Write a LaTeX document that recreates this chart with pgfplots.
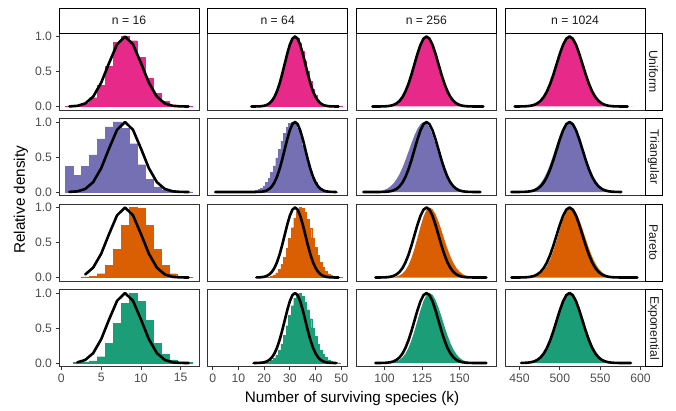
\documentclass[border=0pt]{standalone}
\usepackage{fontspec}
\setmainfont{Liberation Sans}
\usepackage{pgfplots}
\pgfplotsset{compat=1.18}
\definecolor{uni}{HTML}{E7298A}
\definecolor{tri}{HTML}{7570B3}
\definecolor{par}{HTML}{D95F02}
\definecolor{expo}{HTML}{1B9E77}
\definecolor{gray20}{HTML}{333333}
\definecolor{gray30}{HTML}{4D4D4D}
\definecolor{gray10}{HTML}{1A1A1A}
\newcommand{\tickf}{\fontsize{12.2}{14}\selectfont}
\newcommand{\ttlf}{\fontsize{15.3}{18}\selectfont}
\pgfplotsset{
 panel/.style={scale only axis, width=140pt, height=77pt, ymin=-0.05, ymax=1.05,
   anchor=south west, axis on top, clip=true,
   axis line style={draw=gray20, line width=0.8pt},
   xtick=\empty, ytick=\empty, tick pos=left, tick align=outside,
   major tick length=3.5pt, tick style={draw=gray20, line width=0.8pt},
   ticklabel style={font=\tickf, text=gray30}},
 c1/.style={xmin=-0.3, xmax=17.3},
 c2/.style={xmin=-2, xmax=52.5},
 c3/.style={xmin=81.2, xmax=174.6},
 c4/.style={xmin=432, xmax=605.5},
 yt/.style={ytick={0,0.5,1}, yticklabels={0.0,0.5,1.0}},
 cv/.style={black, line width=2.6pt, line join=round, line cap=round},
}
\begin{document}
\begin{tikzpicture}
\useasboundingbox (0pt,0pt) rectangle (676pt,410pt);
% ===================== Row 1: Uniform =====================
\begin{axis}[panel, c1, yt, at={(59pt,300pt)}]
\addplot[ybar, bar width=1, fill=uni, draw=uni, line width=0.3pt] coordinates {(1,0.005)(2,0.012)(3,0.045)(4,0.125)(5,0.30)(6,0.57)(7,0.92)(8,1.0)(9,0.94)(10,0.70)(11,0.41)(12,0.19)(13,0.075)(14,0.022)(15,0.008)(16,0.004)};
\addplot[cv] coordinates {(1,0.0012)(2,0.0093)(3,0.0435)(4,0.1414)(5,0.3394)(6,0.6222)(7,0.8889)(8,1)(9,0.8889)(10,0.6222)(11,0.3394)(12,0.1414)(13,0.0435)(14,0.0093)(15,0.0012)(16,0.0001)};
\end{axis}
\begin{axis}[panel, c2, at={(207.67pt,300pt)}]
\addplot[ybar, bar width=1, fill=uni, draw=uni, line width=0.3pt] coordinates {(15,0.001)(16,0.001)(17,0.001)(18,0.002)(19,0.004)(20,0.010)(21,0.022)(22,0.043)(23,0.078)(24,0.135)(25,0.215)(26,0.325)(27,0.46)(28,0.605)(29,0.755)(30,0.88)(31,0.965)(32,1.0)(33,0.98)(34,0.91)(35,0.79)(36,0.65)(37,0.50)(38,0.36)(39,0.245)(40,0.155)(41,0.092)(42,0.051)(43,0.027)(44,0.013)(45,0.006)(46,0.003)(47,0.002)(48,0.001)(49,0.001)(50,0.001)};
\addplot[cv] coordinates {(15,0.0001)(16,0.0003)(17,0.0008)(18,0.0020)(19,0.0048)(20,0.0107)(21,0.0224)(22,0.0438)(23,0.0801)(24,0.1368)(25,0.2188)(26,0.3282)(27,0.4620)(28,0.6105)(29,0.7578)(30,0.8841)(31,0.9697)(32,1)(33,0.9697)(34,0.8841)(35,0.7578)(36,0.6105)(37,0.4620)(38,0.3282)(39,0.2188)(40,0.1368)(41,0.0801)(42,0.0438)(43,0.0224)(44,0.0107)(45,0.0048)(46,0.0020)(47,0.0008)(48,0.0003)(49,0.0001)};
\end{axis}
\begin{axis}[panel, c3, at={(356.33pt,300pt)}]
\addplot[fill=uni, draw=none] coordinates {(91,0)(91,0.002)(92,0.002)(94,0.002)(96,0.002)(98,0.002)(100,0.003)(102,0.005)(104,0.011)(106,0.022)(108,0.043)(110,0.078)(112,0.133)(114,0.213)(116,0.322)(118,0.455)(120,0.603)(122,0.752)(124,0.881)(126,0.968)(128,1.0)(130,0.975)(132,0.893)(134,0.770)(136,0.625)(138,0.475)(140,0.340)(142,0.228)(144,0.145)(146,0.086)(148,0.048)(150,0.025)(152,0.012)(154,0.006)(156,0.003)(158,0.002)(160,0.002)(162,0.002)(164,0.002)(166,0.002)(167,0.002)(167,0)};
\addplot[cv] coordinates {(92,0)(94,0.0001)(96,0.0003)(98,0.0009)(100,0.0022)(102,0.0051)(104,0.0111)(106,0.0228)(108,0.0439)(110,0.0796)(112,0.1353)(114,0.2163)(116,0.3247)(118,0.4578)(120,0.6065)(122,0.7548)(124,0.8825)(126,0.969)(128,1)(130,0.969)(132,0.8825)(134,0.7548)(136,0.6065)(138,0.4578)(140,0.3247)(142,0.2163)(144,0.1353)(146,0.0796)(148,0.0439)(150,0.0228)(152,0.0111)(154,0.0051)(156,0.0022)(158,0.0009)(160,0.0003)(162,0.0001)(164,0)(166,0)};
\end{axis}
\begin{axis}[panel, c4, at={(505pt,300pt)}]
\addplot[fill=uni, draw=none] coordinates {(442,0)(442,0.002)(444,0.002)(448,0.002)(452,0.002)(456,0.003)(460,0.005)(464,0.011)(468,0.022)(472,0.043)(476,0.079)(480,0.134)(484,0.214)(488,0.322)(492,0.455)(496,0.604)(500,0.752)(504,0.881)(508,0.968)(512,1.0)(516,0.972)(520,0.887)(524,0.760)(528,0.612)(532,0.463)(536,0.330)(540,0.220)(544,0.138)(548,0.081)(552,0.045)(556,0.023)(560,0.011)(564,0.005)(568,0.003)(572,0.002)(576,0.002)(580,0.002)(584,0.002)(588,0.002)(590,0.002)(590,0)};
\addplot[cv] coordinates {(444,0.0001)(448,0.0003)(452,0.0009)(456,0.0022)(460,0.0051)(464,0.0111)(468,0.0228)(472,0.0439)(476,0.0796)(480,0.1353)(484,0.2163)(488,0.3247)(492,0.4578)(496,0.6065)(500,0.7548)(504,0.8825)(508,0.969)(512,1)(516,0.969)(520,0.8825)(524,0.7548)(528,0.6065)(532,0.4578)(536,0.3247)(540,0.2163)(544,0.1353)(548,0.0796)(552,0.0439)(556,0.0228)(560,0.0111)(564,0.0051)(568,0.0022)(572,0.0009)(576,0.0003)(580,0.0001)(584,0)};
\end{axis}
% ===================== Row 2: Triangular =====================
\begin{axis}[panel, c1, yt, at={(59pt,214.5pt)}]
\addplot[ybar, bar width=1, fill=tri, draw=tri, line width=0.3pt] coordinates {(1,0.37)(2,0.235)(3,0.37)(4,0.53)(5,0.76)(6,0.93)(7,1.0)(8,0.91)(9,0.69)(10,0.39)(11,0.185)(12,0.075)(13,0.03)(14,0.012)(15,0.006)(16,0.003)};
\addplot[cv] coordinates {(1,0.0012)(2,0.0093)(3,0.0435)(4,0.1414)(5,0.3394)(6,0.6222)(7,0.8889)(8,1)(9,0.8889)(10,0.6222)(11,0.3394)(12,0.1414)(13,0.0435)(14,0.0093)(15,0.0012)(16,0.0001)};
\end{axis}
\begin{axis}[panel, c2, at={(207.67pt,214.5pt)}]
\addplot[ybar, bar width=1, fill=tri, draw=tri, line width=0.3pt] coordinates {(1,0.004)(2,0.004)(3,0.004)(4,0.004)(5,0.004)(6,0.004)(7,0.004)(8,0.004)(9,0.004)(10,0.004)(11,0.004)(12,0.004)(13,0.004)(14,0.005)(15,0.006)(16,0.011)(17,0.020)(18,0.034)(19,0.056)(20,0.089)(21,0.135)(22,0.198)(23,0.278)(24,0.375)(25,0.487)(26,0.607)(27,0.726)(28,0.835)(29,0.923)(30,0.980)(31,1.0)(32,0.976)(33,0.906)(34,0.801)(35,0.674)(36,0.539)(37,0.411)(38,0.298)(39,0.206)(40,0.135)(41,0.085)(42,0.050)(43,0.029)(44,0.015)(45,0.008)(46,0.004)(47,0.002)(48,0.001)};
\addplot[cv] coordinates {(1,0)(14,0)(15,0.0001)(16,0.0003)(17,0.0008)(18,0.0020)(19,0.0048)(20,0.0107)(21,0.0224)(22,0.0438)(23,0.0801)(24,0.1368)(25,0.2188)(26,0.3282)(27,0.4620)(28,0.6105)(29,0.7578)(30,0.8841)(31,0.9697)(32,1)(33,0.9697)(34,0.8841)(35,0.7578)(36,0.6105)(37,0.4620)(38,0.3282)(39,0.2188)(40,0.1368)(41,0.0801)(42,0.0438)(43,0.0224)(44,0.0107)(45,0.0048)(46,0.0020)(47,0.0008)(48,0.0003)};
\end{axis}
\begin{axis}[panel, c3, at={(356.33pt,214.5pt)}]
\addplot[fill=tri, draw=none] coordinates {(85,0)(85,0.001)(86,0.001)(88,0.001)(90,0.002)(92,0.003)(94,0.005)(96,0.0095)(98,0.017)(100,0.030)(102,0.050)(104,0.080)(106,0.122)(108,0.181)(110,0.256)(112,0.349)(114,0.458)(116,0.576)(118,0.697)(120,0.810)(122,0.904)(124,0.969)(126,1.0)(128,0.985)(130,0.921)(132,0.815)(134,0.684)(136,0.543)(138,0.409)(140,0.291)(142,0.197)(144,0.126)(146,0.077)(148,0.044)(150,0.024)(152,0.012)(154,0.006)(156,0.003)(158,0.002)(160,0.001)(162,0.001)(164,0.001)(165,0.001)(165,0)};
\addplot[cv] coordinates {(86,0)(92,0)(94,0.0001)(96,0.0003)(98,0.0009)(100,0.0022)(102,0.0051)(104,0.0111)(106,0.0228)(108,0.0439)(110,0.0796)(112,0.1353)(114,0.2163)(116,0.3247)(118,0.4578)(120,0.6065)(122,0.7548)(124,0.8825)(126,0.969)(128,1)(130,0.969)(132,0.8825)(134,0.7548)(136,0.6065)(138,0.4578)(140,0.3247)(142,0.2163)(144,0.1353)(146,0.0796)(148,0.0439)(150,0.0228)(152,0.0111)(154,0.0051)(156,0.0022)(158,0.0009)(160,0.0003)(162,0.0001)(164,0)};
\end{axis}
\begin{axis}[panel, c4, at={(505pt,214.5pt)}]
\addplot[fill=tri, draw=none] coordinates {(438,0)(438,0.001)(440,0.001)(444,0.001)(448,0.001)(452,0.0024)(456,0.0053)(460,0.011)(464,0.022)(468,0.041)(472,0.072)(476,0.120)(480,0.190)(484,0.283)(488,0.400)(492,0.535)(496,0.678)(500,0.811)(504,0.919)(508,0.985)(512,1.0)(516,0.951)(520,0.850)(524,0.713)(528,0.560)(532,0.414)(536,0.286)(540,0.186)(544,0.113)(548,0.064)(552,0.034)(556,0.017)(560,0.008)(564,0.004)(568,0.002)(572,0.001)(576,0.001)(578,0.001)(578,0)};
\addplot[cv] coordinates {(440,0)(444,0.0001)(448,0.0003)(452,0.0009)(456,0.0022)(460,0.0051)(464,0.0111)(468,0.0228)(472,0.0439)(476,0.0796)(480,0.1353)(484,0.2163)(488,0.3247)(492,0.4578)(496,0.6065)(500,0.7548)(504,0.8825)(508,0.969)(512,1)(516,0.969)(520,0.8825)(524,0.7548)(528,0.6065)(532,0.4578)(536,0.3247)(540,0.2163)(544,0.1353)(548,0.0796)(552,0.0439)(556,0.0228)(560,0.0111)(564,0.0051)(568,0.0022)(572,0.0009)(576,0.0003)};
\end{axis}
% ===================== Row 3: Pareto =====================
\begin{axis}[panel, c1, yt, at={(59pt,129pt)}]
\addplot[ybar, bar width=1, fill=par, draw=par, line width=0.3pt] coordinates {(3,0.008)(4,0.018)(5,0.055)(6,0.17)(7,0.40)(8,0.75)(9,1.0)(10,0.99)(11,0.75)(12,0.40)(13,0.17)(14,0.055)(15,0.018)(16,0.006)};
\addplot[cv] coordinates {(3,0.0435)(4,0.1414)(5,0.3394)(6,0.6222)(7,0.8889)(8,1)(9,0.8889)(10,0.6222)(11,0.3394)(12,0.1414)(13,0.0435)(14,0.0093)(15,0.0012)(16,0.0001)};
\end{axis}
\begin{axis}[panel, c2, at={(207.67pt,129pt)}]
\addplot[ybar, bar width=1, fill=par, draw=par, line width=0.3pt] coordinates {(17,0.001)(18,0.001)(19,0.001)(20,0.002)(21,0.004)(22,0.009)(23,0.018)(24,0.036)(25,0.067)(26,0.116)(27,0.189)(28,0.289)(29,0.416)(30,0.561)(31,0.712)(32,0.848)(33,0.949)(34,1.0)(35,0.987)(36,0.928)(37,0.828)(38,0.702)(39,0.565)(40,0.432)(41,0.313)(42,0.216)(43,0.141)(44,0.088)(45,0.052)(46,0.029)(47,0.016)(48,0.008)(49,0.004)(50,0.002)};
\addplot[cv] coordinates {(17,0.0008)(18,0.0020)(19,0.0048)(20,0.0107)(21,0.0224)(22,0.0438)(23,0.0801)(24,0.1368)(25,0.2188)(26,0.3282)(27,0.4620)(28,0.6105)(29,0.7578)(30,0.8841)(31,0.9697)(32,1)(33,0.9697)(34,0.8841)(35,0.7578)(36,0.6105)(37,0.4620)(38,0.3282)(39,0.2188)(40,0.1368)(41,0.0801)(42,0.0438)(43,0.0224)(44,0.0107)(45,0.0048)(46,0.0020)(47,0.0008)(48,0.0003)(49,0.0001)};
\end{axis}
\begin{axis}[panel, c3, at={(356.33pt,129pt)}]
\addplot[fill=par, draw=none] coordinates {(93,0)(93,0.001)(94,0.001)(96,0.001)(98,0.001)(100,0.001)(102,0.001)(104,0.0025)(106,0.006)(108,0.0136)(110,0.029)(112,0.056)(114,0.103)(116,0.175)(118,0.278)(120,0.411)(122,0.566)(124,0.726)(126,0.868)(128,0.965)(130,1.0)(132,0.976)(134,0.906)(136,0.801)(138,0.674)(140,0.539)(142,0.411)(144,0.298)(146,0.206)(148,0.135)(150,0.085)(152,0.050)(154,0.029)(156,0.015)(158,0.008)(160,0.004)(162,0.002)(164,0.001)(166,0.001)(168,0.001)(169,0.001)(169,0)};
\addplot[cv] coordinates {(94,0.0001)(96,0.0003)(98,0.0009)(100,0.0022)(102,0.0051)(104,0.0111)(106,0.0228)(108,0.0439)(110,0.0796)(112,0.1353)(114,0.2163)(116,0.3247)(118,0.4578)(120,0.6065)(122,0.7548)(124,0.8825)(126,0.969)(128,1)(130,0.969)(132,0.8825)(134,0.7548)(136,0.6065)(138,0.4578)(140,0.3247)(142,0.2163)(144,0.1353)(146,0.0796)(148,0.0439)(150,0.0228)(152,0.0111)(154,0.0051)(156,0.0022)(158,0.0009)(160,0.0003)(162,0.0001)(164,0)(166,0)(168,0)};
\end{axis}
\begin{axis}[panel, c4, at={(505pt,129pt)}]
\addplot[fill=par, draw=none] coordinates {(438,0)(438,0.001)(440,0.001)(444,0.001)(448,0.001)(452,0.001)(456,0.001)(460,0.0025)(464,0.006)(468,0.0135)(472,0.028)(476,0.054)(480,0.097)(484,0.164)(488,0.258)(492,0.382)(496,0.528)(500,0.684)(504,0.829)(508,0.939)(512,1.0)(516,0.99)(520,0.930)(524,0.826)(528,0.695)(532,0.553)(536,0.416)(540,0.297)(544,0.200)(548,0.127)(552,0.077)(556,0.044)(560,0.024)(564,0.012)(568,0.006)(572,0.003)(576,0.0015)(580,0.001)(584,0.001)(588,0.001)(592,0.001)(596,0.001)(598,0.001)(598,0)};
\addplot[cv] coordinates {(440,0)(444,0.0001)(448,0.0003)(452,0.0009)(456,0.0022)(460,0.0051)(464,0.0111)(468,0.0228)(472,0.0439)(476,0.0796)(480,0.1353)(484,0.2163)(488,0.3247)(492,0.4578)(496,0.6065)(500,0.7548)(504,0.8825)(508,0.969)(512,1)(516,0.969)(520,0.8825)(524,0.7548)(528,0.6065)(532,0.4578)(536,0.3247)(540,0.2163)(544,0.1353)(548,0.0796)(552,0.0439)(556,0.0228)(560,0.0111)(564,0.0051)(568,0.0022)(572,0.0009)(576,0.0003)(580,0.0001)(584,0)(596,0)};
\end{axis}
% ===================== Row 4: Exponential =====================
\begin{axis}[panel, c1, yt, at={(59pt,43.5pt)}, xtick={0,5,10,15}, xticklabels={0,5,10,15}]
\addplot[ybar, bar width=1, fill=expo, draw=expo, line width=0.3pt] coordinates {(2,0.01)(3,0.015)(4,0.03)(5,0.09)(6,0.28)(7,0.57)(8,0.85)(9,1.0)(10,0.88)(11,0.61)(12,0.28)(13,0.12)(14,0.045)(15,0.017)(16,0.008)};
\addplot[cv] coordinates {(2,0.0093)(3,0.0435)(4,0.1414)(5,0.3394)(6,0.6222)(7,0.8889)(8,1)(9,0.8889)(10,0.6222)(11,0.3394)(12,0.1414)(13,0.0435)(14,0.0093)(15,0.0012)(16,0.0001)};
\end{axis}
\begin{axis}[panel, c2, at={(207.67pt,43.5pt)}, xtick={0,10,20,30,40,50}, xticklabels={0,10,20,30,40,50}]
\addplot[ybar, bar width=1, fill=expo, draw=expo, line width=0.3pt] coordinates {(16,0.001)(17,0.001)(18,0.001)(19,0.002)(20,0.004)(21,0.009)(22,0.018)(23,0.035)(24,0.065)(25,0.110)(26,0.179)(27,0.273)(28,0.394)(29,0.533)(30,0.680)(31,0.818)(32,0.927)(33,0.989)(34,1.0)(35,0.955)(36,0.873)(37,0.761)(38,0.633)(39,0.502)(40,0.380)(41,0.274)(42,0.189)(43,0.124)(44,0.078)(45,0.046)(46,0.026)(47,0.014)(48,0.007)(49,0.003)};
\addplot[cv] coordinates {(16,0.0003)(17,0.0008)(18,0.0020)(19,0.0048)(20,0.0107)(21,0.0224)(22,0.0438)(23,0.0801)(24,0.1368)(25,0.2188)(26,0.3282)(27,0.4620)(28,0.6105)(29,0.7578)(30,0.8841)(31,0.9697)(32,1)(33,0.9697)(34,0.8841)(35,0.7578)(36,0.6105)(37,0.4620)(38,0.3282)(39,0.2188)(40,0.1368)(41,0.0801)(42,0.0438)(43,0.0224)(44,0.0107)(45,0.0048)(46,0.0020)(47,0.0008)(48,0.0003)};
\end{axis}
\begin{axis}[panel, c3, at={(356.33pt,43.5pt)}, xtick={100,125,150}, xticklabels={100,125,150}]
\addplot[fill=expo, draw=none] coordinates {(93,0)(93,0.001)(94,0.001)(96,0.001)(98,0.001)(100,0.001)(102,0.002)(104,0.005)(106,0.011)(108,0.023)(110,0.044)(112,0.080)(114,0.135)(116,0.216)(118,0.325)(120,0.458)(122,0.6065)(124,0.755)(126,0.8825)(128,0.969)(130,1.0)(132,0.975)(134,0.902)(136,0.793)(138,0.662)(140,0.524)(142,0.395)(144,0.282)(146,0.191)(148,0.124)(150,0.076)(152,0.044)(154,0.024)(156,0.013)(158,0.006)(160,0.003)(162,0.0015)(164,0.001)(166,0.001)(168,0.001)(169,0.001)(169,0)};
\addplot[cv] coordinates {(94,0.0001)(96,0.0003)(98,0.0009)(100,0.0022)(102,0.0051)(104,0.0111)(106,0.0228)(108,0.0439)(110,0.0796)(112,0.1353)(114,0.2163)(116,0.3247)(118,0.4578)(120,0.6065)(122,0.7548)(124,0.8825)(126,0.969)(128,1)(130,0.969)(132,0.8825)(134,0.7548)(136,0.6065)(138,0.4578)(140,0.3247)(142,0.2163)(144,0.1353)(146,0.0796)(148,0.0439)(150,0.0228)(152,0.0111)(154,0.0051)(156,0.0022)(158,0.0009)(160,0.0003)(162,0.0001)(164,0)(166,0)(168,0)};
\end{axis}
\begin{axis}[panel, c4, at={(505pt,43.5pt)}, xtick={450,500,550,600}, xticklabels={450,500,550,600}]
\addplot[fill=expo, draw=none] coordinates {(450,0)(450,0.001)(452,0.001)(456,0.002)(460,0.004)(464,0.0092)(468,0.019)(472,0.037)(476,0.069)(480,0.119)(484,0.194)(488,0.295)(492,0.422)(496,0.568)(500,0.719)(504,0.854)(508,0.952)(512,0.998)(516,0.984)(520,0.914)(524,0.801)(528,0.662)(532,0.515)(536,0.378)(540,0.262)(544,0.171)(548,0.106)(552,0.061)(556,0.034)(560,0.017)(564,0.0084)(568,0.004)(572,0.002)(576,0.001)(580,0.001)(584,0.001)(588,0.001)(590,0.001)(590,0)};
\addplot[cv] coordinates {(452,0.0009)(456,0.0022)(460,0.0051)(464,0.0111)(468,0.0228)(472,0.0439)(476,0.0796)(480,0.1353)(484,0.2163)(488,0.3247)(492,0.4578)(496,0.6065)(500,0.7548)(504,0.8825)(508,0.969)(512,1)(516,0.969)(520,0.8825)(524,0.7548)(528,0.6065)(532,0.4578)(536,0.3247)(540,0.2163)(544,0.1353)(548,0.0796)(552,0.0439)(556,0.0228)(560,0.0111)(564,0.0051)(568,0.0022)(572,0.0009)(576,0.0003)(580,0.0001)(584,0)(588,0)};
\end{axis}
% ===================== Strips =====================
\begin{scope}[every node/.style={font=\tickf, text=gray10}]
\foreach \x/\lab in {59/{n = 16}, 207.67/{n = 64}, 356.33/{n = 256}, 505/{n = 1024}}{
  \draw[black, line width=0.9pt, fill=white] (\x pt,377pt) rectangle ({\x pt+140pt},401.5pt);
  \node at ({\x pt+70pt},389.25pt) {\lab};
}
\foreach \y/\lab in {300/Uniform, 214.5/Triangular, 129/Pareto, 43.5/Exponential}{
  \draw[black, line width=0.9pt, fill=white] (645pt,\y pt) rectangle (662pt,{\y pt+77pt});
  \node[rotate=-90] at (653.5pt,{\y pt+38.5pt}) {\lab};
}
\end{scope}
\node[font=\ttlf, rotate=90] at (21pt,210.25pt) {Relative density};
\node[font=\ttlf, anchor=base] at (352pt,8pt) {Number of surviving species (k)};
\end{tikzpicture}
\end{document}
